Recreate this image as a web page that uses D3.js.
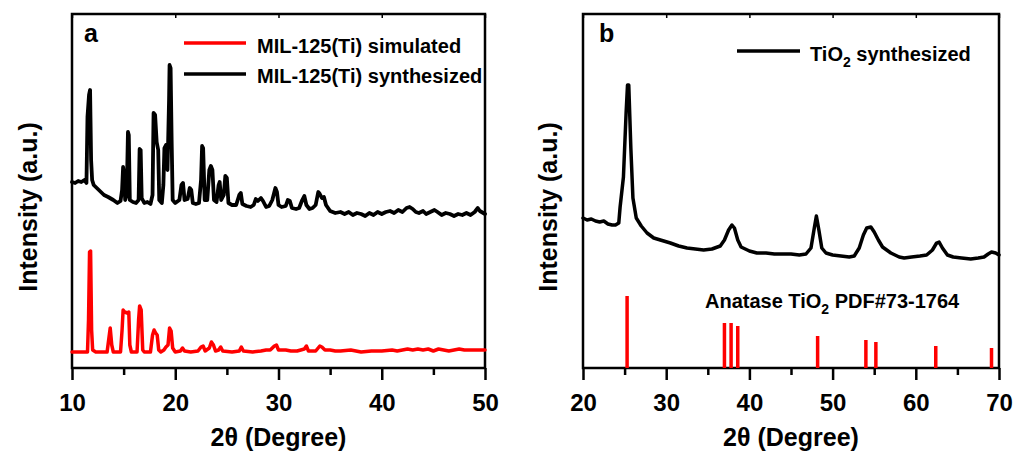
<!DOCTYPE html>
<html>
<head>
<meta charset="utf-8">
<script src="https://cdn.jsdelivr.net/npm/d3@7"></script>
<style>
  body { margin: 0; background: #fff; }
  text { font-family: "Liberation Sans", Arial, sans-serif; font-weight: bold; fill: #000; }
</style>
</head>
<body>
<div id="chart"></div>
<script>
// panel a: MIL-125(Ti), [2theta, intensity]
var milSimulated = [
  [10.0, 16], [11.5, 16], [11.6, 48], [11.7, 116], [11.8, 117], [11.9, 38], [12.0, 18], [12.3, 16],
  [13.4, 16], [13.55, 28], [13.7, 40], [13.85, 23], [14.0, 16], [14.7, 16], [14.85, 38], [14.95, 58],
  [15.1, 56], [15.35, 55], [15.5, 56], [15.6, 23], [15.75, 16], [16.3, 16], [16.45, 48], [16.55, 62],
  [16.7, 58], [16.85, 18], [17.0, 16], [17.6, 16], [17.8, 33], [17.95, 38], [18.1, 35], [18.25, 33],
  [18.4, 18], [18.6, 16], [18.9, 18], [19.1, 21], [19.3, 23], [19.45, 40], [19.6, 37], [19.75, 20],
  [20.0, 16], [20.5, 17], [20.7, 20], [20.9, 17], [21.5, 16], [22.2, 17], [22.5, 21], [22.7, 22],
  [22.9, 17], [23.3, 20], [23.5, 26], [23.7, 23], [23.9, 17], [24.2, 18], [24.4, 21], [24.6, 17],
  [25.5, 16], [26.2, 17], [26.4, 21], [26.6, 17], [27.5, 16], [28.3, 17], [28.8, 18], [29.2, 18],
  [29.6, 22], [29.8, 23], [30.0, 18], [30.7, 18], [31.2, 17], [31.8, 17], [32.5, 19], [32.7, 22],
  [32.9, 17], [33.6, 17], [34.0, 22], [34.2, 21], [34.5, 18], [35.0, 18], [35.5, 17], [36.0, 17],
  [37.0, 18], [38.0, 16], [39.0, 17], [40.0, 17], [41.0, 18], [41.5, 17], [42.0, 18], [42.5, 19],
  [43.0, 18], [43.5, 19], [44.0, 18], [44.5, 19], [45.0, 17], [45.5, 19], [46.0, 18], [46.5, 17],
  [47.0, 18], [47.5, 19], [48.0, 18], [49.0, 18], [49.5, 18], [50.0, 18]
];

var milSynthesized = [
  [10.0, 186], [10.3, 185], [10.6, 187], [10.9, 186], [11.2, 188], [11.4, 185], [11.5, 251], [11.65, 273],
  [11.75, 278], [11.85, 208], [11.95, 188], [12.1, 183], [12.4, 180], [12.8, 176], [13.1, 173], [13.5, 171],
  [14.0, 168], [14.4, 165], [14.7, 167], [14.85, 178], [14.95, 201], [15.05, 193], [15.15, 168], [15.3, 173],
  [15.42, 236], [15.5, 233], [15.6, 168], [15.9, 166], [16.2, 165], [16.45, 168], [16.55, 219], [16.65, 218],
  [16.75, 170], [17.0, 165], [17.3, 166], [17.6, 164], [17.8, 173], [17.9, 255], [18.05, 253], [18.2, 226],
  [18.35, 218], [18.45, 168], [18.7, 165], [18.85, 183], [18.95, 220], [19.1, 223], [19.25, 198], [19.4, 268],
  [19.45, 303], [19.55, 300], [19.65, 228], [19.75, 168], [20.0, 165], [20.4, 168], [20.6, 183], [20.75, 185],
  [20.9, 168], [21.2, 169], [21.4, 180], [21.55, 178], [21.7, 165], [22.0, 164], [22.3, 165], [22.5, 188],
  [22.6, 222], [22.7, 220], [22.85, 168], [23.1, 168], [23.3, 198], [23.45, 202], [23.6, 198], [23.75, 168],
  [24.0, 166], [24.2, 183], [24.3, 186], [24.45, 168], [24.7, 173], [24.85, 192], [25.0, 190], [25.15, 165],
  [25.5, 163], [25.9, 163], [26.2, 173], [26.35, 175], [26.5, 164], [26.9, 162], [27.3, 161], [27.6, 163],
  [27.8, 169], [28.0, 167], [28.3, 170], [28.5, 167], [28.8, 161], [29.1, 162], [29.4, 168], [29.7, 180],
  [29.85, 176], [30.0, 163], [30.3, 161], [30.7, 162], [30.9, 168], [31.1, 167], [31.3, 160], [31.7, 159],
  [32.0, 160], [32.3, 168], [32.5, 172], [32.7, 163], [33.0, 159], [33.3, 160], [33.6, 163], [33.85, 176],
  [34.0, 174], [34.2, 170], [34.4, 171], [34.6, 163], [35.0, 157], [35.5, 155], [36.0, 156], [36.4, 154],
  [36.8, 156], [37.2, 153], [37.6, 155], [38.0, 154], [38.4, 152], [38.8, 155], [39.2, 153], [39.6, 156],
  [40.0, 154], [40.4, 156], [40.8, 157], [41.2, 155], [41.6, 158], [42.0, 156], [42.4, 160], [42.7, 161],
  [43.0, 159], [43.3, 156], [43.6, 155], [44.0, 157], [44.3, 154], [44.7, 156], [45.1, 158], [45.4, 156],
  [45.8, 153], [46.2, 155], [46.6, 154], [47.0, 152], [47.4, 154], [47.8, 153], [48.2, 155], [48.6, 153],
  [49.0, 156], [49.3, 160], [49.5, 157], [50.0, 154]
];

// panel b: TiO2
var tio2Synthesized = [
  [20.0, 150], [20.5, 148], [21.0, 149], [21.5, 147], [22.0, 146], [22.5, 147], [23.0, 144], [23.5, 143],
  [23.9, 143], [24.3, 145], [24.46, 161], [24.86, 191], [25.18, 255], [25.35, 283], [25.5, 283], [25.75, 220],
  [26.0, 170], [26.4, 150], [27.0, 142], [27.7, 135], [28.5, 130], [29.3, 128], [30.5, 125], [31.5, 122],
  [32.5, 120], [33.5, 119], [34.5, 118], [35.5, 119], [36.5, 122], [37.0, 128], [37.5, 138], [37.9, 143],
  [38.2, 140], [38.6, 128], [39.0, 121], [39.5, 119], [40.0, 117], [40.9, 115], [42.0, 115], [43.0, 114],
  [44.0, 114], [45.0, 114], [46.0, 113], [46.8, 114], [47.4, 120], [47.8, 140], [48.05, 152], [48.35, 138],
  [48.7, 120], [49.2, 115], [50.0, 113], [51.0, 112], [52.0, 111], [52.6, 112], [53.2, 120], [53.7, 133],
  [54.1, 140], [54.6, 141], [55.0, 136], [55.5, 128], [56.0, 121], [56.5, 118], [57.0, 115], [58.0, 111],
  [58.6, 110], [59.5, 111], [60.5, 112], [61.3, 113], [62.0, 118], [62.5, 125], [62.8, 126], [63.2, 120],
  [63.8, 113], [64.5, 111], [65.5, 110], [66.6, 109], [67.5, 110], [68.2, 111], [68.7, 114], [69.1, 116],
  [69.6, 115], [70.0, 113]
];

var anatasePos = [25.3, 37.0, 37.8, 38.6, 48.2, 54.0, 55.2, 62.4, 69.1];
var anataseInt = [72, 45, 45, 42, 32, 28, 26, 22, 20];

var ticksA = [10, 20, 30, 40, 50];
var minorA = [15, 25, 35, 45];
var ticksB = [20, 30, 40, 50, 60, 70];
var minorB = [25, 35, 45, 55, 65];

var top_ = 14, bottom = 368;

var svg = d3
  .select("#chart")
  .append("svg")
  .attr("width", 1015)
  .attr("height", 453);

var y = d3.scaleLinear().domain([0, 354]).range([bottom, top_]);

function drawAxes(x, ticks, minor, yLabelX) {
  var g = svg.append("g");

  var xAxis = d3.axisBottom(x).tickValues(ticks).tickSize(12).tickSizeOuter(0).tickPadding(6);
  var xMinor = d3.axisBottom(x).tickValues(minor).tickSize(7).tickSizeOuter(0).tickFormat("");
  var xTop = d3.axisBottom(x).tickValues(ticks).tickSize(4).tickSizeOuter(0).tickFormat("");

  [xAxis, xMinor].forEach(function (ax) {
    var a = g.append("g").attr("transform", `translate(0, ${bottom})`).call(ax);
    a.select(".domain").remove();
    a.selectAll("line").attr("stroke", "#000").attr("stroke-width", 2.5);
    a.selectAll("text")
      .attr("fill", "#000")
      .style("font-size", "24px")
      .attr("dy", null)
      .attr("y", 43);
  });

  var t = g.append("g").attr("transform", `translate(0, ${top_})`).call(xTop);
  t.select(".domain").remove();
  t.selectAll("line").attr("stroke", "#000").attr("stroke-width", 1.5);

  g.append("rect")
    .attr("x", x.range()[0])
    .attr("y", top_)
    .attr("width", x.range()[1] - x.range()[0])
    .attr("height", bottom - top_)
    .attr("fill", "none")
    .attr("stroke", "#000")
    .attr("stroke-width", 2.5);

  g.append("text")
    .attr("x", (x.range()[0] + x.range()[1]) / 2)
    .attr("y", 446)
    .attr("text-anchor", "middle")
    .style("font-size", "25px")
    .text("2\u03b8 (Degree)");

  g.append("text")
    .attr("transform", `translate(${yLabelX}, ${(top_ + bottom) / 2 + 16}) rotate(-90)`)
    .attr("text-anchor", "middle")
    .style("font-size", "25px")
    .text("Intensity (a.u.)");
}

function drawLine(x, data, color, width) {
  var line = d3
    .line()
    .x((d) => x(d[0]))
    .y((d) => y(d[1]));
  svg
    .append("path")
    .datum(data)
    .attr("d", line)
    .attr("fill", "none")
    .attr("stroke", color)
    .attr("stroke-width", width)
    .attr("stroke-linejoin", "round")
    .attr("stroke-linecap", "round");
}

// ---- panel a
var xa = d3.scaleLinear().domain([10, 50]).range([72, 485]);
drawAxes(xa, ticksA, minorA, 37);
drawLine(xa, milSimulated, "#ff0000", 3.5);
drawLine(xa, milSynthesized, "#000", 3.8);

svg.append("text").attr("x", 84).attr("y", 42).style("font-size", "25px").text("a");

svg.append("line").attr("x1", 184).attr("x2", 246).attr("y1", 43).attr("y2", 43)
  .attr("stroke", "#ff0000").attr("stroke-width", 3.5);
svg.append("text").attr("x", 257).attr("y", 53).style("font-size", "20px").text("MIL-125(Ti) simulated");
svg.append("line").attr("x1", 184).attr("x2", 246).attr("y1", 74).attr("y2", 74)
  .attr("stroke", "#000").attr("stroke-width", 3.5);
svg.append("text").attr("x", 257).attr("y", 83).style("font-size", "20px").text("MIL-125(Ti) synthesized");

// ---- panel b
var xb = d3.scaleLinear().domain([20, 70]).range([583, 999]);
drawAxes(xb, ticksB, minorB, 557);

svg
  .append("g")
  .selectAll("line")
  .data(anatasePos)
  .join("line")
  .attr("x1", (d) => xb(d))
  .attr("x2", (d) => xb(d))
  .attr("y1", y(0))
  .attr("y2", (d, i) => y(anataseInt[i]))
  .attr("stroke", "#ff0000")
  .attr("stroke-width", 3.5);

drawLine(xb, tio2Synthesized, "#000", 3.5);

svg.append("text").attr("x", 599).attr("y", 42).style("font-size", "25px").text("b");

svg.append("line").attr("x1", 737).attr("x2", 800).attr("y1", 51).attr("y2", 51)
  .attr("stroke", "#000").attr("stroke-width", 3.5);
var leg = svg.append("text").attr("x", 810).attr("y", 61).style("font-size", "20px");
leg.append("tspan").text("TiO");
leg.append("tspan").attr("dy", 6).style("font-size", "14px").text("2");
leg.append("tspan").attr("dy", -6).text(" synthesized");

var ana = svg.append("text").attr("x", 705).attr("y", 308).style("font-size", "20px");
ana.append("tspan").text("Anatase TiO");
ana.append("tspan").attr("dy", 6).style("font-size", "14px").text("2");
ana.append("tspan").attr("dy", -6).text(" PDF#73-1764");
</script>
</body>
</html>
